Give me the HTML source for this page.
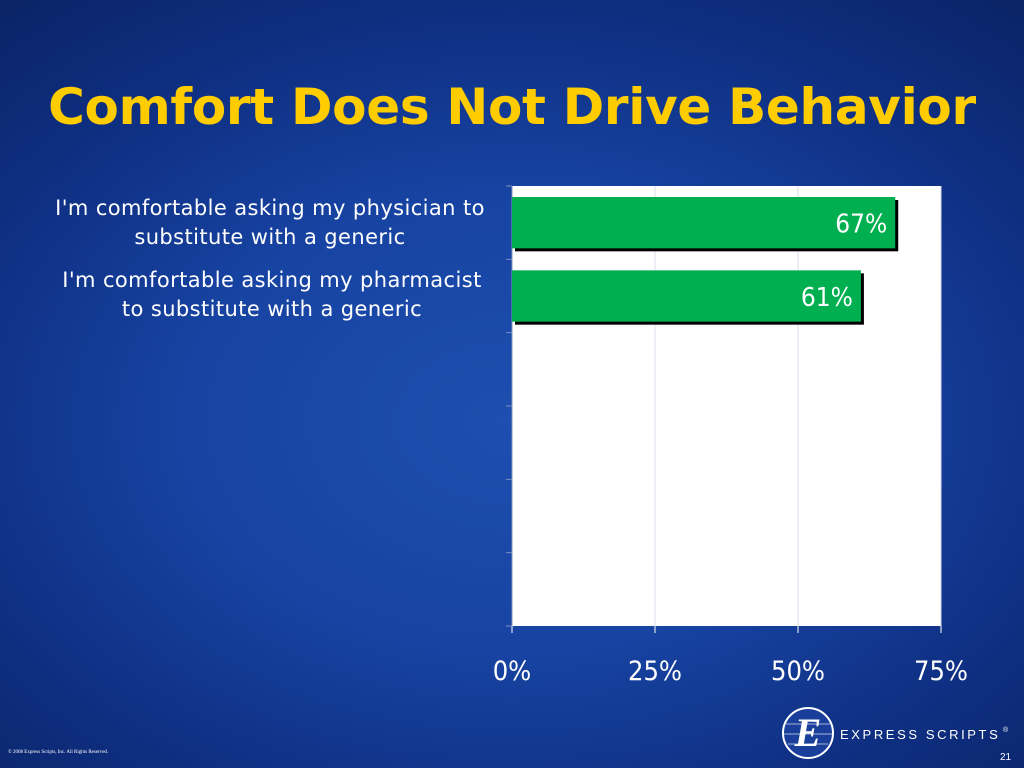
<!DOCTYPE html>
<html><head><meta charset="utf-8"><style>
html,body{margin:0;padding:0}
body{width:1024px;height:768px;overflow:hidden;position:relative;font-family:"Liberation Sans","DejaVu Sans",sans-serif;
background:radial-gradient(ellipse 80% 75% at 50% 55%,#1d4fb0 0%,#1743a2 40%,#0e2e80 72%,#0a2262 100%);}
.title{position:absolute;left:0;top:78px;width:1024px;text-align:center;color:#ffcc00;font-weight:bold;font-size:50px;font-family:"DejaVu Sans","Liberation Sans",sans-serif;letter-spacing:-0.3px}
.cat{position:absolute;color:#fff;font-size:21px;letter-spacing:0.4px;text-align:center;line-height:29px;font-family:"DejaVu Sans","Liberation Sans",sans-serif;white-space:nowrap}
</style></head><body>
<div class="title">Comfort Does Not Drive Behavior</div>
<div class="cat" style="left:20px;top:194px;width:500px">I'm comfortable asking my physician to<br>substitute with a generic</div>
<div class="cat" style="left:22px;top:266px;width:500px">I'm comfortable asking my pharmacist<br>to substitute with a generic</div>
<svg id="chart" width="1024" height="768" style="position:absolute;left:0;top:0"></svg>
<svg width="240" height="60" style="position:absolute;left:780px;top:704px">
<circle cx="28" cy="29" r="25" fill="#1a3f9a" stroke="#fff" stroke-width="2"/>
<path d="M6 20 H50 M4 30 H52 M8 40 H48" stroke="#fff" stroke-width="1" opacity="0.6"/>
<text x="28" y="42" text-anchor="middle" fill="#fff" font-family="Liberation Serif" font-style="italic" font-weight="bold" font-size="40">E</text>
<text x="60" y="35" fill="#fff" font-family="Liberation Sans" font-size="13" letter-spacing="2.6">EXPRESS SCRIPTS</text>
<text x="223" y="28" fill="#fff" font-size="7">®</text>
</svg>
<div style="position:absolute;left:1000px;top:752px;color:#fff;font-size:10px">21</div>
<div style="position:absolute;left:8px;top:750px;color:#fff;font-size:5px;font-family:'Liberation Serif',serif">© 2008 Express Scripts, Inc. All Rights Reserved.</div>
<script>
const categories=["I'm comfortable asking my physician to substitute with a generic","I'm comfortable asking my pharmacist to substitute with a generic"];
const values=[67,61];
const valueLabels=["67%","61%"];
const xTicks=[0,25,50,75];
const xTickLabels=["0%","25%","50%","75%"];
const slotCount=6;
const NS="http://www.w3.org/2000/svg";
const svg=document.getElementById('chart');
const L=512,R=941,T=186,B=626;
const x=v=>L+(v-0)/(75-0)*(R-L);
const slot=(B-T)/slotCount;
const y=i=>T+i*slot;
function mk(tag,a){const e=document.createElementNS(NS,tag);for(const k in a)e.setAttribute(k,a[k]);svg.appendChild(e);return e;}
let e=mk('rect',{x:L,y:T,width:R-L,height:B-T,fill:'#fff'});


xTicks.forEach((t,i)=>{
 if(t>0){const g=mk('line',{x1:x(t),x2:x(t),y1:T,y2:B,stroke:'#d8dcec','stroke-width':1});
 
 }
 const tk=mk('line',{x1:x(t),x2:x(t),y1:B,y2:B+7,stroke:'#fff','stroke-width':1});
 
 
 const tl=mk('text',{x:x(t),y:680,'text-anchor':'middle',fill:'#fff','font-size':27,'font-family':'DejaVu Sans Condensed, DejaVu Sans, sans-serif'});
 tl.textContent=xTickLabels[i];
 
 
});
for(let i=0;i<=slotCount;i++){
 const tk=mk('line',{x1:L-6,x2:L,y1:y(i),y2:y(i),stroke:'#8090c0','stroke-width':1});
 
 
}
const ax=mk('line',{x1:L,x2:L,y1:T,y2:B,stroke:'#8090c0','stroke-width':1});


values.forEach((v,i)=>{
 const top=y(i)+11,h=slot*0.7;
 const s=mk('rect',{x:L+3,y:top+3,width:x(v)-L,height:h,fill:'#000'});
 
 
 const b=mk('rect',{x:L,y:top,width:x(v)-L,height:h,fill:'#00b050'});
 
 
 const t=mk('text',{x:x(v)-8,y:top+h/2+10,'text-anchor':'end',fill:'#fff','font-size':26,'font-family':'DejaVu Sans Condensed, DejaVu Sans, sans-serif'});
 t.textContent=valueLabels[i];
 
 
});
</script>
</body></html>
